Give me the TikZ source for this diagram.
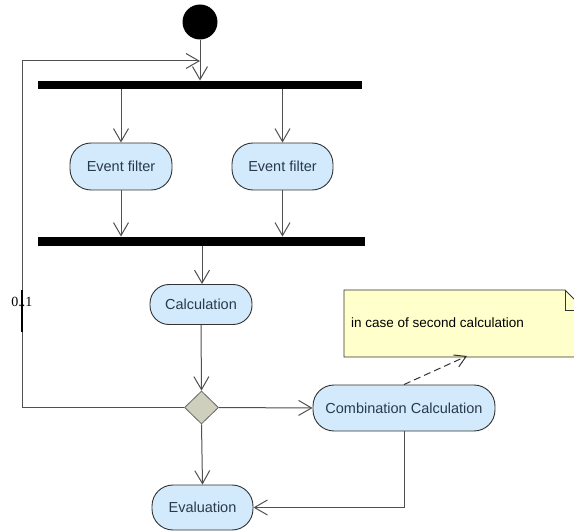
\documentclass[tikz,border=0pt]{standalone}
\usepackage{fontspec}
\setmainfont{Liberation Sans}
\newfontfamily\labelfont{Liberation Serif}
\usetikzlibrary{arrows.meta,shapes.geometric}
\definecolor{actfill}{HTML}{D2EAFB}
\definecolor{notefill}{HTML}{FFFFCC}
\definecolor{decfill}{HTML}{CFCFBE}
\definecolor{flowline}{HTML}{505050}
\definecolor{txt}{HTML}{2A3A4A}
\tikzset{
  activity/.style={draw=black!80, fill=actfill, rounded corners=21pt, line width=0.9pt,
    minimum height=46pt, inner sep=0pt, text=txt, font=\fontsize{14.5}{16}\selectfont},
  bar/.style={fill=black, inner sep=0pt, minimum height=8.5pt},
  flow/.style={draw=flowline, line width=1pt, -{Straight Barb[length=13pt,width=15pt,line width=1pt]}},
  trace/.style={draw=black!80, line width=1pt, dashed, dash pattern=on 7pt off 4pt,
    -{Straight Barb[length=11pt,width=13pt,line width=1pt]}},
  decision/.style={diamond, draw=black!60, fill=decfill, minimum width=34pt, minimum height=33pt,
    inner sep=0pt, line width=0.8pt}
}
\begin{document}
\begin{tikzpicture}[x=1pt,y=-1pt]
\useasboundingbox (0,0) rectangle (574,532);
\fill[white] (0,0) rectangle (574,532);

% start and synchronisation bars
\node[circle, fill=black, minimum size=35pt, inner sep=0pt] (init) at (200,22) {};
\node[bar, minimum width=324pt] (fork) at (200,85) {};
\node[bar, minimum width=327pt, minimum height=9.5pt] (join) at (201.5,241.5) {};

% actions
\node[activity, minimum width=102pt, minimum height=47pt] (ef1) at (121,166.5) {Event filter};
\node[activity, minimum width=101pt, minimum height=47pt] (ef2) at (282.5,166.5) {Event filter};
\node[activity, minimum width=102pt, minimum height=40pt, rounded corners=19pt] (calc) at (201,304.5) {Calculation};
\node[decision] (dec) at (201.5,407.5) {};
\node[activity, minimum width=182pt] (comb) at (404,408) {Combination Calculation};
\node[activity, minimum width=101pt, minimum height=45pt] (eval) at (202.5,507.5) {Evaluation};

% note
\draw[draw=black!80, fill=notefill, line width=0.9pt]
  (344,290) -- (565,290) -- (585,310) -- (585,357) -- (344,357) -- cycle;
\draw[draw=black!80, line width=0.9pt] (565,290) -- (565,310) -- (585,310);
\node[anchor=west, text=black, inner sep=0pt, font=\fontsize{13.5}{15}\selectfont] (note) at (351,323) {in case of second calculation};
\coordinate (notebase) at (467,356);

% control flow
\coordinate (loopturn) at (22,61);
\coordinate (loopin) at (200,61);
\draw[flow] (init.south) -- (init.south |- fork.north);
\draw[flow] (fork.south -| ef1) -- (ef1.north);
\draw[flow] (fork.south -| ef2) -- (ef2.north);
\draw[flow] (ef1.south) -- (ef1.south |- join.north);
\draw[flow] (ef2.south) -- (ef2.south |- join.north);
\draw[flow] (join.south -| 202,0) -- (calc.north -| 202,0);
\draw[flow] (calc.south) -- (dec.north);
\draw[flow] (dec.east) -- (comb.west);
\draw[flow] (dec.south) -- (eval.north);
\draw[flow] (comb.south) |- (eval.east);
\draw[flow] (dec.west) -| (loopturn) -- (loopin);
\draw[trace] (comb.north) -- (notebase);

% multiplicity mark on the loop
\coordinate (multtop) at (22,290);
\coordinate (multbot) at (22,332);
\draw[black, line width=2.6pt] (multtop) -- (multbot);
\node[inner sep=0pt, font=\labelfont\fontsize{14}{15}\selectfont] (mult) at (22,302) {0..1};
\end{tikzpicture}
\end{document}
